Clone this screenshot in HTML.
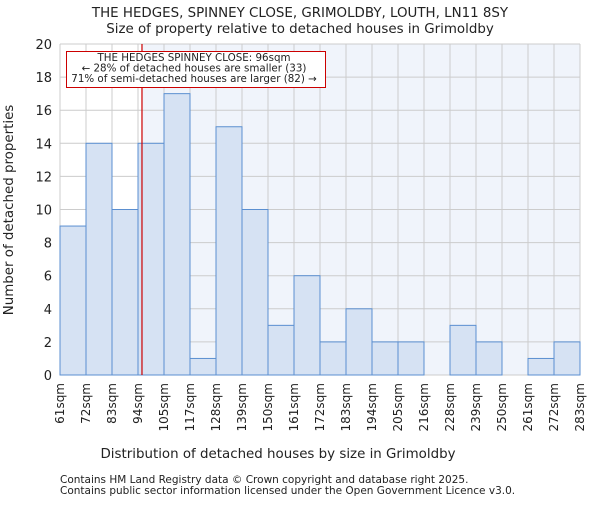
<!DOCTYPE html>
<html><head><meta charset="utf-8"><style>
body{margin:0;background:#fff}
text{font-family:"DejaVu Sans","Liberation Sans",sans-serif;fill:#222}
</style></head><body>
<svg id="c" width="600" height="500" xmlns="http://www.w3.org/2000/svg">
<text x="300" y="17" text-anchor="middle" font-size="13.4">THE HEDGES, SPINNEY CLOSE, GRIMOLDBY, LOUTH, LN11 8SY</text>
<text x="300" y="33" text-anchor="middle" font-size="13.4">Size of property relative to detached houses in Grimoldby</text>
<g id="plot"></g>
<text x="278" y="458" text-anchor="middle" font-size="13.4">Distribution of detached houses by size in Grimoldby</text>
<text transform="translate(13,210) rotate(-90)" text-anchor="middle" font-size="13.4">Number of detached properties</text>
<text x="60" y="483" font-size="10.5">Contains HM Land Registry data © Crown copyright and database right 2025.</text>
<text x="60" y="494" font-size="10.5">Contains public sector information licensed under the Open Government Licence v3.0.</text>
</svg>
<script>
const tickLabels=["61sqm","72sqm","83sqm","94sqm","105sqm","117sqm","128sqm","139sqm","150sqm","161sqm","172sqm","183sqm","194sqm","205sqm","216sqm","228sqm","239sqm","250sqm","261sqm","272sqm","283sqm"];
const counts=[9,14,10,14,17,1,15,10,3,6,2,4,2,2,0,3,2,0,1,2];
const yTicks=[0,2,4,6,8,10,12,14,16,18,20];
const binStart=61, binWidth=11.1, markerValue=96;
const X0=60,X1=580,Y0=375,Y1=44;
const xs=i=>X0+i*(X1-X0)/counts.length;
const xv=v=>X0+(v-binStart)/binWidth*(X1-X0)/counts.length;
const ys=v=>Y0-v*(Y0-Y1)/20;
const NS="http://www.w3.org/2000/svg";
const g=document.getElementById('plot');
function mk(t,a,p){const e=document.createElementNS(NS,t);for(const k in a)e.setAttribute(k,a[k]);(p||g).appendChild(e);return e;}
const mx=xv(markerValue);
let e=mk('rect',{x:X0,y:Y1,width:mx-X0,height:Y0-Y1,fill:'#fff'});


e=mk('rect',{x:mx,y:Y1,width:X1-mx,height:Y0-Y1,fill:'#f0f4fb'});


yTicks.forEach(v=>{
 e=mk('line',{x1:X0,x2:X1,y1:ys(v),y2:ys(v),stroke:'#ccc','stroke-width':1});
 
 
 e=mk('text',{x:X0-8,y:ys(v)+5,'text-anchor':'end','font-size':'13'});e.textContent=v;
 
 
});
tickLabels.forEach((t,i)=>{
 e=mk('line',{x1:xs(i),x2:xs(i),y1:Y1,y2:Y0,stroke:'#ccc','stroke-width':1});
 
 
 e=mk('text',{transform:`translate(${xs(i)+4},${Y0+8}) rotate(-90)`,'text-anchor':'end','font-size':'12'});e.textContent=t;
 
 
});
counts.forEach((c,i)=>{
 if(c<=0)return;
 e=mk('rect',{x:xs(i),y:ys(c),width:xs(i+1)-xs(i),height:Y0-ys(c),fill:'#d6e2f3',stroke:'#5b8fd0','stroke-width':1});
 
 
});
e=mk('line',{x1:mx,x2:mx,y1:Y1,y2:Y0,stroke:'#cc0000','stroke-width':1.2});


e=mk('rect',{x:66.5,y:51.5,width:259,height:36,fill:'#fff',stroke:'#cc0000','stroke-width':1});


["THE HEDGES SPINNEY CLOSE: 96sqm","← 28% of detached houses are smaller (33)","71% of semi-detached houses are larger (82) →"].forEach((t,i)=>{
 e=mk('text',{x:194,y:61+i*10.6,'text-anchor':'middle','font-size':'10.3'});e.textContent=t;
 
 
});
</script>
</body></html>
